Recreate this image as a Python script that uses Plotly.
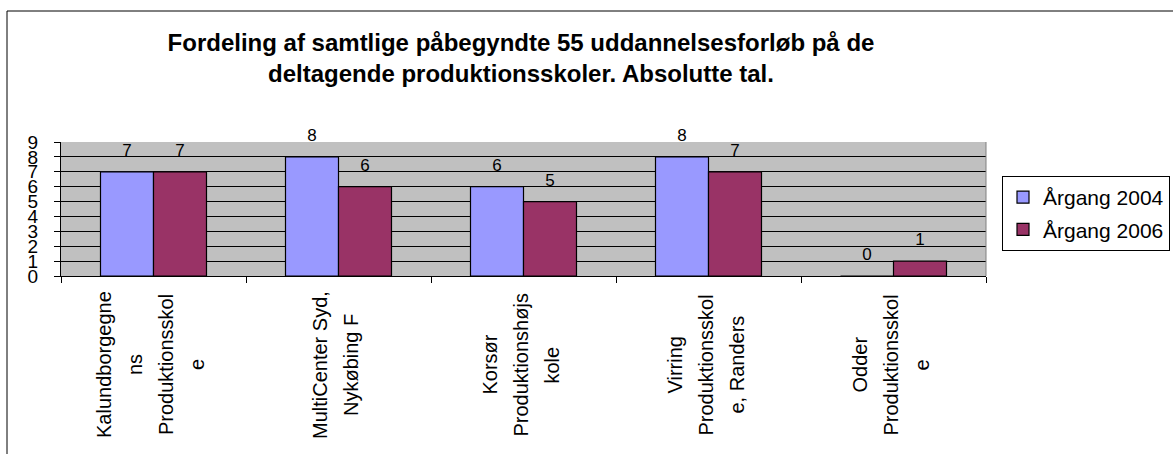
import plotly.graph_objects as go

categories = [
    "Kalundborgegnens Produktionsskole",
    "MultiCenter Syd, Nykøbing F",
    "Korsør Produktionshøjskole",
    "Virring Produktionsskole, Randers",
    "Odder Produktionsskole",
]
category_label_lines = [
    ["Kalundborgegne", "ns", "Produktionsskol", "e"],
    ["MultiCenter Syd,", "Nykøbing F"],
    ["Korsør", "Produktionshøjs", "kole"],
    ["Virring", "Produktionsskol", "e, Randers"],
    ["Odder", "Produktionsskol", "e"],
]
series_names = ["Årgang 2004", "Årgang 2006"]
values_2004 = [7, 8, 6, 8, 0]
values_2006 = [7, 6, 5, 7, 1]
y_ticks = list(range(0, 10))

title_text = ("Fordeling af samtlige påbegyndte 55 uddannelsesforløb på de<br>"
              "deltagende produktionsskoler. Absolutte tal.")

FONT = "Liberation Sans, Arial, sans-serif"
colors = ["#9999FF", "#993366"]

W, H = 1173, 454
L, R, T, B = 61, 986, 142, 276  # plot area in pixels

fig = go.Figure()
for name, vals, col, grp in zip(series_names, [values_2004, values_2006], colors, ["a", "b"]):
    fig.add_trace(go.Bar(
        x=categories, y=vals, name=name, offsetgroup=grp, legendgroup=grp,
        marker=dict(color=col, line=dict(color="black", width=1.2)),
        hoverinfo="skip",
    ))
for vals, grp in zip([values_2004, values_2006], ["a", "b"]):
    fig.add_trace(go.Scatter(
        x=categories, y=vals, mode="markers+text", offsetgroup=grp,
        text=[str(v) for v in vals], textposition="top center",
        textfont=dict(family=FONT, size=17, color="black"),
        marker=dict(size=17, opacity=0), showlegend=False, cliponaxis=False,
        hoverinfo="skip",
    ))

pw = R - L
ph = B - T
def px_x(x):
    return (x - L) / pw
def px_y(y):
    return (B - y) / ph

annotations = []
line_gap = 31
for cat, lines in zip(categories, category_label_lines):
    n = len(lines)
    for j, line in enumerate(lines):
        annotations.append(dict(
            x=cat, xref="x", y=px_y(365), yref="paper",
            text=line, textangle=-90, showarrow=False,
            xanchor="center", yanchor="middle",
            xshift=(j - (n - 1) / 2) * line_gap - 3,
            font=dict(family=FONT, size=20, color="black"),
        ))

shapes = [
    dict(type="rect", xref="paper", yref="paper",
         x0=px_x(7), x1=px_x(1300), y0=px_y(470), y1=px_y(11),
         line=dict(color="black", width=1), fillcolor="rgba(0,0,0,0)", layer="below"),
    dict(type="line", xref="paper", yref="paper", x0=1, x1=1, y0=0, y1=1,
         line=dict(color="#808080", width=1)),
]

fig.update_layout(
    width=W, height=H,
    margin=dict(l=L, r=W - R, t=T, b=H - B, autoexpand=False),
    paper_bgcolor="white", plot_bgcolor="#C0C0C0",
    barmode="group", bargap=0.427, bargroupgap=0,
    scattermode="group", scattergap=0.427,
    font=dict(family=FONT, color="black"),
    title=dict(text=title_text, x=521 / W, xanchor="center", xref="container",
               y=1 - 51 / H, yanchor="top", yref="container",
               font=dict(family=FONT, size=24, color="black", weight="bold")),
    showlegend=True,
    legend=dict(x=px_x(1002), xanchor="left", y=px_y(176), yanchor="top",
                bgcolor="white", bordercolor="black", borderwidth=1,
                font=dict(family=FONT, size=21, color="black"),
                tracegroupgap=2, itemclick=False, itemdoubleclick=False),
    xaxis=dict(type="category", showticklabels=False, ticks="outside", tickson="boundaries",
               ticklen=6, tickcolor="black", showline=True, linecolor="black", linewidth=1,
               showgrid=False, fixedrange=True),
    yaxis=dict(range=[0, 9], tickvals=y_ticks, ticks="outside", ticklen=6, tickcolor="black",
               showline=True, linecolor="black", linewidth=1, showgrid=True, gridcolor="black",
               gridwidth=1, zeroline=False, ticklabelstandoff=12,
               tickfont=dict(family=FONT, size=19, color="black"), fixedrange=True),
    annotations=annotations, shapes=shapes,
)

fig.write_html("out.html", config={"displayModeBar": False},
               post_script="document.body.style.margin='0';document.body.style.overflow='hidden';")
